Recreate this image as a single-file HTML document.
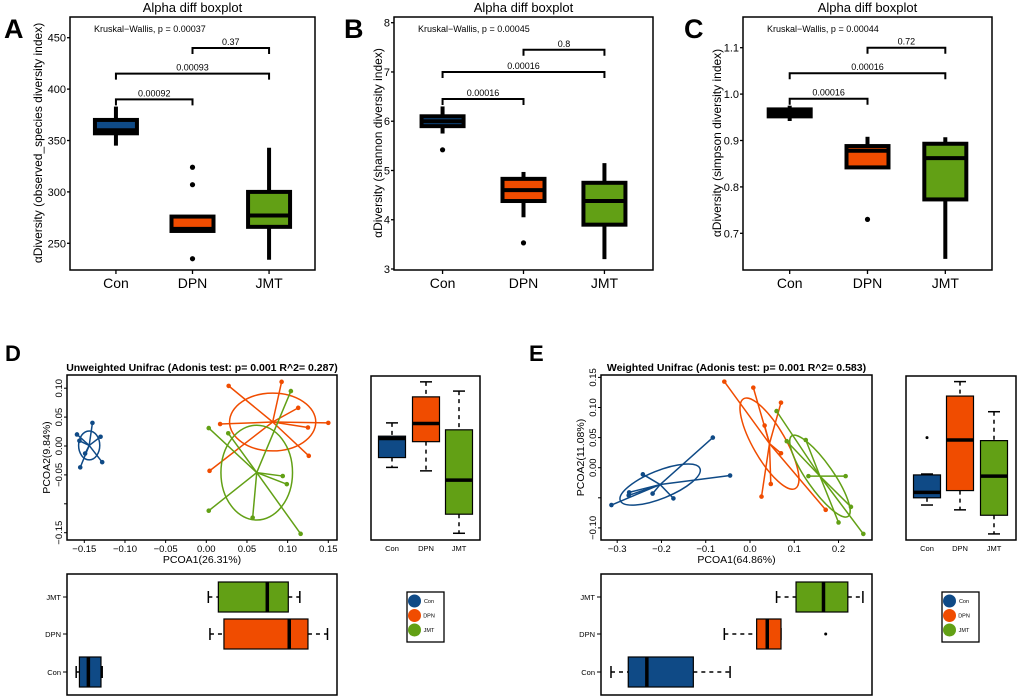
<!DOCTYPE html>
<html><head><meta charset="utf-8"><style>
html,body{margin:0;padding:0;background:#fff;width:1020px;height:700px;overflow:hidden}
svg{display:block;font-family:"Liberation Sans",Arial,sans-serif}
</style></head><body>
<svg id="fig" width="1020" height="700" viewBox="0 0 1020 700" xmlns="http://www.w3.org/2000/svg"></svg>
<script>
// ---------- DATA ----------
const groups = ['Con','DPN','JMT'];
const colors = ['#0f4a86','#f04c00','#62a015'];
// Panel A
const aLow=[345,262,234], aQ1=[357,262,266], aMed=[360,264,277], aQ3=[370,276,300], aHigh=[383,276,343];
const aOut=[[],[324,307,235],[]];
const aTicks=[250,300,350,400,450];
const aBrackets=[[0,1,390,'0.00092'],[0,2,415,'0.00093'],[1,2,440,'0.37']];
// Panel B
const bLow=[5.75,4.05,3.2], bQ1=[5.9,4.38,3.9], bMed=[6.0,4.6,4.38], bQ3=[6.1,4.83,4.75], bHigh=[6.3,4.97,5.15];
const bOut=[[5.42],[3.53],[]];
const bTicks=[3,4,5,6,7,8];
const bBrackets=[[0,1,6.45,'0.00016'],[0,2,7.0,'0.00016'],[1,2,7.45,'0.8']];
// Panel C
const cLow=[0.942,0.842,0.645], cQ1=[0.952,0.842,0.773], cMed=[0.960,0.878,0.862], cQ3=[0.967,0.888,0.893], cHigh=[0.975,0.908,0.907];
const cOut=[[],[0.73],[]];
const cTicks=[0.7,0.8,0.9,1.0,1.1];
const cBrackets=[[0,1,0.99,'0.00016'],[0,2,1.045,'0.00016'],[1,2,1.10,'0.72']];
// Panel D scatter (PCOA1, PCOA2)
const dConX=[-0.140,-0.159,-0.130,-0.155,-0.128,-0.149,-0.156], dConY=[0.040,0.020,0.016,-0.037,-0.028,-0.013,0.009];
const dDpnX=[0.0275,0.0926,0.113,0.150,0.125,0.126,0.017,0.004], dDpnY=[0.104,0.111,0.066,0.040,0.032,-0.017,0.038,-0.043];
const dJmtX=[0.104,0.003,0.027,0.094,0.099,0.003,0.057,0.116], dJmtY=[0.095,0.031,0.022,-0.052,-0.066,-0.112,-0.124,-0.152];
const dCentX=[-0.144,0.0816,0.062], dCentY=[0.001,0.0415,-0.046];
const dEllA=[0.013,0.053,0.044], dEllB=[0.025,0.050,0.082], dEllAng=[0,0,0];
const dXTicks=[-0.15,-0.10,-0.05,0,0.05,0.10,0.15], dXLabels=['−0.15','−0.10','−0.05','0.00','0.05','0.10','0.15'];
const dYTicks=[0.10,0.05,0,-0.05,-0.10,-0.15], dYLabels=['0.10','0.05','0.00','−0.05','','−0.15'];
const dPc2Low=[-0.037,-0.043,-0.151], dPc2Q1=[-0.020,0.0075,-0.118], dPc2Med=[0.013,0.039,-0.059], dPc2Q3=[0.017,0.085,0.028], dPc2High=[0.040,0.111,0.095];
const dPc1Low=[-0.160,0.0045,0.0025], dPc1Q1=[-0.156,0.0217,0.0148], dPc1Med=[-0.145,0.102,0.075], dPc1Q3=[-0.1295,0.125,0.1008], dPc1High=[-0.128,0.149,0.115];
// Panel E scatter
const eConX=[-0.084,-0.045,-0.242,-0.220,-0.173,-0.313,-0.273,-0.274], eConY=[0.050,-0.013,-0.011,-0.043,-0.051,-0.062,-0.041,-0.046];
const eDpnX=[-0.058,0.0075,0.070,0.033,0.070,0.047,0.026,0.171], eDpnY=[0.143,0.133,0.108,0.070,0.024,-0.027,-0.048,-0.070];
const eJmtX=[0.060,0.083,0.126,0.216,0.228,0.200,0.256,0.132], eJmtY=[0.094,0.044,0.046,-0.014,-0.065,-0.091,-0.110,-0.014];
const eCentX=[-0.203,0.044,0.158], eCentY=[-0.028,0.040,-0.014];
const eEllA=[0.097,0.117,0.111], eEllB=[0.023,0.027,0.022], eEllAng=[-22,60,55];
const eXTicks=[-0.3,-0.2,-0.1,0,0.1,0.2], eXLabels=['−0.3','−0.2','−0.1','0.0','0.1','0.2'];
const eYTicks=[0.15,0.10,0.05,0,-0.05,-0.10], eYLabels=['0.15','0.10','0.05','0.00','','−0.10'];
const ePc2Low=[-0.062,-0.070,-0.110], ePc2Q1=[-0.050,-0.038,-0.079], ePc2Med=[-0.041,0.046,-0.014], ePc2Q3=[-0.012,0.119,0.045], ePc2High=[-0.0105,0.143,0.093];
const ePc2Out=[[0.050],[],[]];
const ePc1Low=[-0.314,-0.058,0.060], ePc1Q1=[-0.275,0.015,0.104], ePc1Med=[-0.233,0.039,0.166], ePc1Q3=[-0.128,0.070,0.221], ePc1High=[-0.045,0.070,0.255];
const ePc1Out=[[],[0.171],[]];

// ---------- HELPERS ----------
const NS='http://www.w3.org/2000/svg';
const svg=document.getElementById('fig');
function mk(tag, attrs, parent, name){
  const e=document.createElementNS(NS,tag);
  for(const k in attrs) e.setAttribute(k,attrs[k]);
  
  
  (parent||svg).appendChild(e);
  return e;
}
function txt(s, attrs, parent, name){ const t=mk('text',attrs,parent,name); t.textContent=s; return t; }

// ---------- ALPHA PANELS ----------
function alphaPanel(o){
  const g=mk('g',{},svg,'panel-'+o.letter.toLowerCase());
  const L=o.left,R=o.right,T=17,B=270;
  const y=v=>o.y0 - (v-o.v0)*o.k;
  const x=i=>L+(0.6+i)/3.2*(R-L);
  txt(o.letter,{x:o.lx,y:38,'font-size':27,'font-weight':'bold'},g,'panel-label');
  txt('Alpha diff boxplot',{x:(L+R)/2,y:12,'font-size':13,'text-anchor':'middle'},g,'chart-title');
  mk('rect',{x:L,y:T,width:R-L,height:B-T,fill:'none',stroke:'#000','stroke-width':1.5},g,'plot-frame');
  o.ticks.forEach(t=>{
    mk('line',{x1:L-3,x2:L,y1:y(t),y2:y(t),stroke:'#000','stroke-width':1.3},g,'y-tick');
    txt(o.fmt(t),{x:L-4,y:y(t)+4,'font-size':11,'text-anchor':'end'},g,'y-tick-label');
  });
  groups.forEach((c,i)=>{
    mk('line',{x1:x(i),x2:x(i),y1:B,y2:B+4,stroke:'#000','stroke-width':1.3},g,'x-tick');
    txt(c,{x:x(i),y:B+18,'font-size':14,'text-anchor':'middle'},g,'x-tick-label');
  });
  txt(o.ylab,{x:0,y:0,'font-size':12,'text-anchor':'middle',transform:`translate(${o.ylx},143) rotate(-90)`},g,'y-axis-title');
  txt(o.kw,{x:L+24,y:32,'font-size':9,'text-anchor':'start'},g,'kruskal-wallis-label');
  o.br.forEach(b=>{
    const x1=x(b[0]),x2=x(b[1]),yy=y(b[2]);
    mk('path',{d:`M${x1},${yy+6}V${yy}H${x2}V${yy+6}`,fill:'none',stroke:'#000','stroke-width':2},g,'significance-bracket');
    txt(b[3],{x:(x1+x2)/2,y:yy-3,'font-size':9,'text-anchor':'middle'},g,'p-value-label');
  });
  const w=42;
  groups.forEach((c,i)=>{
    const cx=x(i);
    mk('line',{x1:cx,x2:cx,y1:y(o.low[i]),y2:y(o.high[i]),stroke:'#000','stroke-width':4},g,'whisker-'+c.toLowerCase());
    mk('rect',{x:cx-w/2,y:y(o.q3[i]),width:w,height:Math.max(0,y(o.q1[i])-y(o.q3[i])),fill:colors[i],stroke:'#000','stroke-width':4},g,'box-'+c.toLowerCase());
    mk('line',{x1:cx-w/2,x2:cx+w/2,y1:y(o.med[i]),y2:y(o.med[i]),stroke:'#000','stroke-width':4},g,'median-'+c.toLowerCase());
    o.out[i].forEach(v=>mk('circle',{cx:cx,cy:y(v),r:2.6,fill:'#000'},g,'outlier'));
  });
}
alphaPanel({letter:'A',lx:4,left:70,right:315,y0:243.3,v0:250,k:1.028,ticks:aTicks,fmt:v=>String(v),ylab:'αDiversity (observed_species diversity index)',ylx:42,kw:'Kruskal−Wallis, p = 0.00037',br:aBrackets,low:aLow,q1:aQ1,med:aMed,q3:aQ3,high:aHigh,out:aOut});
alphaPanel({letter:'B',lx:344,left:394,right:653,y0:269,v0:3,k:49.26,ticks:bTicks,fmt:v=>String(v),ylab:'αDiversity (shannon diversity index)',ylx:382,kw:'Kruskal−Wallis, p = 0.00045',br:bBrackets,low:bLow,q1:bQ1,med:bMed,q3:bQ3,high:bHigh,out:bOut});
alphaPanel({letter:'C',lx:684,left:743,right:992,y0:233.3,v0:0.7,k:464,ticks:cTicks,fmt:v=>v.toFixed(1),ylab:'αDiversity (simpson diversity index)',ylx:721,kw:'Kruskal−Wallis, p = 0.00044',br:cBrackets,low:cLow,q1:cQ1,med:cMed,q3:cQ3,high:cHigh,out:cOut});

// ---------- PCoA PANELS ----------
function pcoaPanel(o){
  const g=mk('g',{},svg,'panel-'+o.letter.toLowerCase());
  const sx=v=>o.x0+v*o.kx, sy=v=>o.y0-v*o.ky;
  const L=o.left,R=o.right,T=375,B=540;
  txt(o.letter,{x:o.lx,y:361,'font-size':22,'font-weight':'bold'},g,'panel-label');
  txt(o.title,{x:(L+R)/2,y:371,'font-size':10.5,'font-weight':'bold','text-anchor':'middle'},g,'pcoa-title');
  mk('rect',{x:L,y:T,width:R-L,height:B-T,fill:'none',stroke:'#000','stroke-width':1.5},g,'scatter-frame');
  o.xt.forEach((t,i)=>{
    mk('line',{x1:sx(t),x2:sx(t),y1:B,y2:B+3,stroke:'#000','stroke-width':1},g,'x-tick');
    txt(o.xl[i],{x:sx(t),y:B+12,'font-size':9.5,'text-anchor':'middle'},g,'x-tick-label');
  });
  o.yt.forEach((t,i)=>{
    mk('line',{x1:L-3,x2:L,y1:sy(t),y2:sy(t),stroke:'#000','stroke-width':1},g,'y-tick');
    txt(o.yl[i],{x:0,y:0,'font-size':9.5,'text-anchor':'middle',transform:`translate(${L-5},${sy(t)}) rotate(-90)`},g,'y-tick-label');
  });
  txt(o.xlab,{x:(L+R)/2,y:563,'font-size':10.5,'text-anchor':'middle'},g,'x-axis-title');
  txt(o.ylab,{x:0,y:0,'font-size':10.5,'text-anchor':'middle',transform:`translate(${L-17},${(T+B)/2}) rotate(-90)`},g,'y-axis-title');
  const pts=[[o.conX,o.conY],[o.dpnX,o.dpnY],[o.jmtX,o.jmtY]];
  pts.forEach((p,gi)=>{
    const cx=sx(o.cx[gi]),cy=sy(o.cy[gi]);
    mk('ellipse',{cx:cx,cy:cy,rx:o.ea[gi]*o.kx,ry:o.eb[gi]*o.ky,fill:'none',stroke:colors[gi],'stroke-width':1.5,transform:`rotate(${o.ang[gi]} ${cx} ${cy})`},g,'ellipse-'+groups[gi].toLowerCase());
    p[0].forEach((vx,j)=>{
      mk('line',{x1:cx,y1:cy,x2:sx(vx),y2:sy(p[1][j]),stroke:colors[gi],'stroke-width':1.5},g,'spoke-'+groups[gi].toLowerCase());
      mk('circle',{cx:sx(vx),cy:sy(p[1][j]),r:2.3,fill:colors[gi]},g,'point-'+groups[gi].toLowerCase());
    });
  });
  const RL=o.rL,RR=o.rR;
  mk('rect',{x:RL,y:376,width:RR-RL,height:164,fill:'none',stroke:'#000','stroke-width':1.5},g,'pcoa2-box-frame');
  groups.forEach((c,i)=>{
    const cx=o.rx[i],w=27;
    txt(c,{x:cx,y:551,'font-size':7.5,'text-anchor':'middle'},g,'pcoa2-category-label');
    mk('line',{x1:cx,x2:cx,y1:sy(o.p2h[i]),y2:sy(o.p2q3[i]),stroke:'#000','stroke-width':1.5,'stroke-dasharray':'4,4'},g,'whisker');
    mk('line',{x1:cx,x2:cx,y1:sy(o.p2q1[i]),y2:sy(o.p2l[i]),stroke:'#000','stroke-width':1.5,'stroke-dasharray':'4,4'},g,'whisker');
    mk('line',{x1:cx-6,x2:cx+6,y1:sy(o.p2h[i]),y2:sy(o.p2h[i]),stroke:'#000','stroke-width':1.5},g,'whisker-cap');
    mk('line',{x1:cx-6,x2:cx+6,y1:sy(o.p2l[i]),y2:sy(o.p2l[i]),stroke:'#000','stroke-width':1.5},g,'whisker-cap');
    mk('rect',{x:cx-w/2,y:sy(o.p2q3[i]),width:w,height:sy(o.p2q1[i])-sy(o.p2q3[i]),fill:colors[i],stroke:'#000','stroke-width':1.2},g,'pcoa2-box-'+c.toLowerCase());
    mk('line',{x1:cx-w/2,x2:cx+w/2,y1:sy(o.p2m[i]),y2:sy(o.p2m[i]),stroke:'#000','stroke-width':3.5},g,'median');
    (o.p2o[i]||[]).forEach(v=>mk('circle',{cx:cx,cy:sy(v),r:1.5,fill:'#000'},g,'outlier'));
  });
  mk('rect',{x:L,y:574,width:R-L,height:121,fill:'none',stroke:'#000','stroke-width':1.5},g,'pcoa1-box-frame');
  const by=[672,634,597];
  groups.forEach((c,i)=>{
    const cy=by[i],h=30;
    mk('line',{x1:L-4,x2:L,y1:cy,y2:cy,stroke:'#000','stroke-width':1},g,'y-tick');
    txt(c,{x:L-6,y:cy+3,'font-size':7.5,'text-anchor':'end'},g,'pcoa1-category-label');
    mk('line',{x1:sx(o.p1l[i]),x2:sx(o.p1q1[i]),y1:cy,y2:cy,stroke:'#000','stroke-width':1.5,'stroke-dasharray':'4,4'},g,'whisker');
    mk('line',{x1:sx(o.p1q3[i]),x2:sx(o.p1h[i]),y1:cy,y2:cy,stroke:'#000','stroke-width':1.5,'stroke-dasharray':'4,4'},g,'whisker');
    mk('line',{x1:sx(o.p1l[i]),x2:sx(o.p1l[i]),y1:cy-6,y2:cy+6,stroke:'#000','stroke-width':1.5},g,'whisker-cap');
    mk('line',{x1:sx(o.p1h[i]),x2:sx(o.p1h[i]),y1:cy-6,y2:cy+6,stroke:'#000','stroke-width':1.5},g,'whisker-cap');
    mk('rect',{x:sx(o.p1q1[i]),y:cy-h/2,width:sx(o.p1q3[i])-sx(o.p1q1[i]),height:h,fill:colors[i],stroke:'#000','stroke-width':1.2},g,'pcoa1-box-'+c.toLowerCase());
    mk('line',{x1:sx(o.p1m[i]),x2:sx(o.p1m[i]),y1:cy-h/2,y2:cy+h/2,stroke:'#000','stroke-width':3.5},g,'median');
    (o.p1o[i]||[]).forEach(v=>mk('circle',{cx:sx(v),cy:cy,r:1.5,fill:'#000'},g,'outlier'));
  });
  const lg=mk('g',{},g,'legend');
  mk('rect',{x:o.lgx,y:592,width:37,height:50,fill:'#fff',stroke:'#000','stroke-width':1.3},lg,'legend-frame');
  groups.forEach((c,i)=>{
    mk('circle',{cx:o.lgx+7.5,cy:601+i*14.5,r:6.5,fill:colors[i]},lg,'legend-swatch-'+c.toLowerCase());
    txt(c,{x:o.lgx+22,y:603+i*14.5,'font-size':5.5,'text-anchor':'middle'},lg,'legend-entry-'+c.toLowerCase());
  });
}
pcoaPanel({letter:'D',lx:5,left:67,right:337,x0:206.3,kx:813.3,y0:446,ky:578,
  title:'Unweighted Unifrac (Adonis test: p= 0.001  R^2= 0.287)',xlab:'PCOA1(26.31%)',ylab:'PCOA2(9.84%)',
  xt:dXTicks,xl:dXLabels,yt:dYTicks,yl:dYLabels,
  conX:dConX,conY:dConY,dpnX:dDpnX,dpnY:dDpnY,jmtX:dJmtX,jmtY:dJmtY,cx:dCentX,cy:dCentY,ea:dEllA,eb:dEllB,ang:dEllAng,
  rL:371,rR:480,rx:[392,426,459],p2l:dPc2Low,p2q1:dPc2Q1,p2m:dPc2Med,p2q3:dPc2Q3,p2h:dPc2High,p2o:[[],[],[]],
  p1l:dPc1Low,p1q1:dPc1Q1,p1m:dPc1Med,p1q3:dPc1Q3,p1h:dPc1High,p1o:[[],[],[]],lgx:407});
pcoaPanel({letter:'E',lx:529,left:601,right:872,x0:750,kx:442.7,y0:467.7,ky:602,
  title:'Weighted Unifrac (Adonis test: p= 0.001  R^2= 0.583)',xlab:'PCOA1(64.86%)',ylab:'PCOA2(11.08%)',
  xt:eXTicks,xl:eXLabels,yt:eYTicks,yl:eYLabels,
  conX:eConX,conY:eConY,dpnX:eDpnX,dpnY:eDpnY,jmtX:eJmtX,jmtY:eJmtY,cx:eCentX,cy:eCentY,ea:eEllA,eb:eEllB,ang:eEllAng,
  rL:906,rR:1016,rx:[927,960,994],p2l:ePc2Low,p2q1:ePc2Q1,p2m:ePc2Med,p2q3:ePc2Q3,p2h:ePc2High,p2o:ePc2Out,
  p1l:ePc1Low,p1q1:ePc1Q1,p1m:ePc1Med,p1q3:ePc1Q3,p1h:ePc1High,p1o:ePc1Out,lgx:942});
</script>
</body></html>
